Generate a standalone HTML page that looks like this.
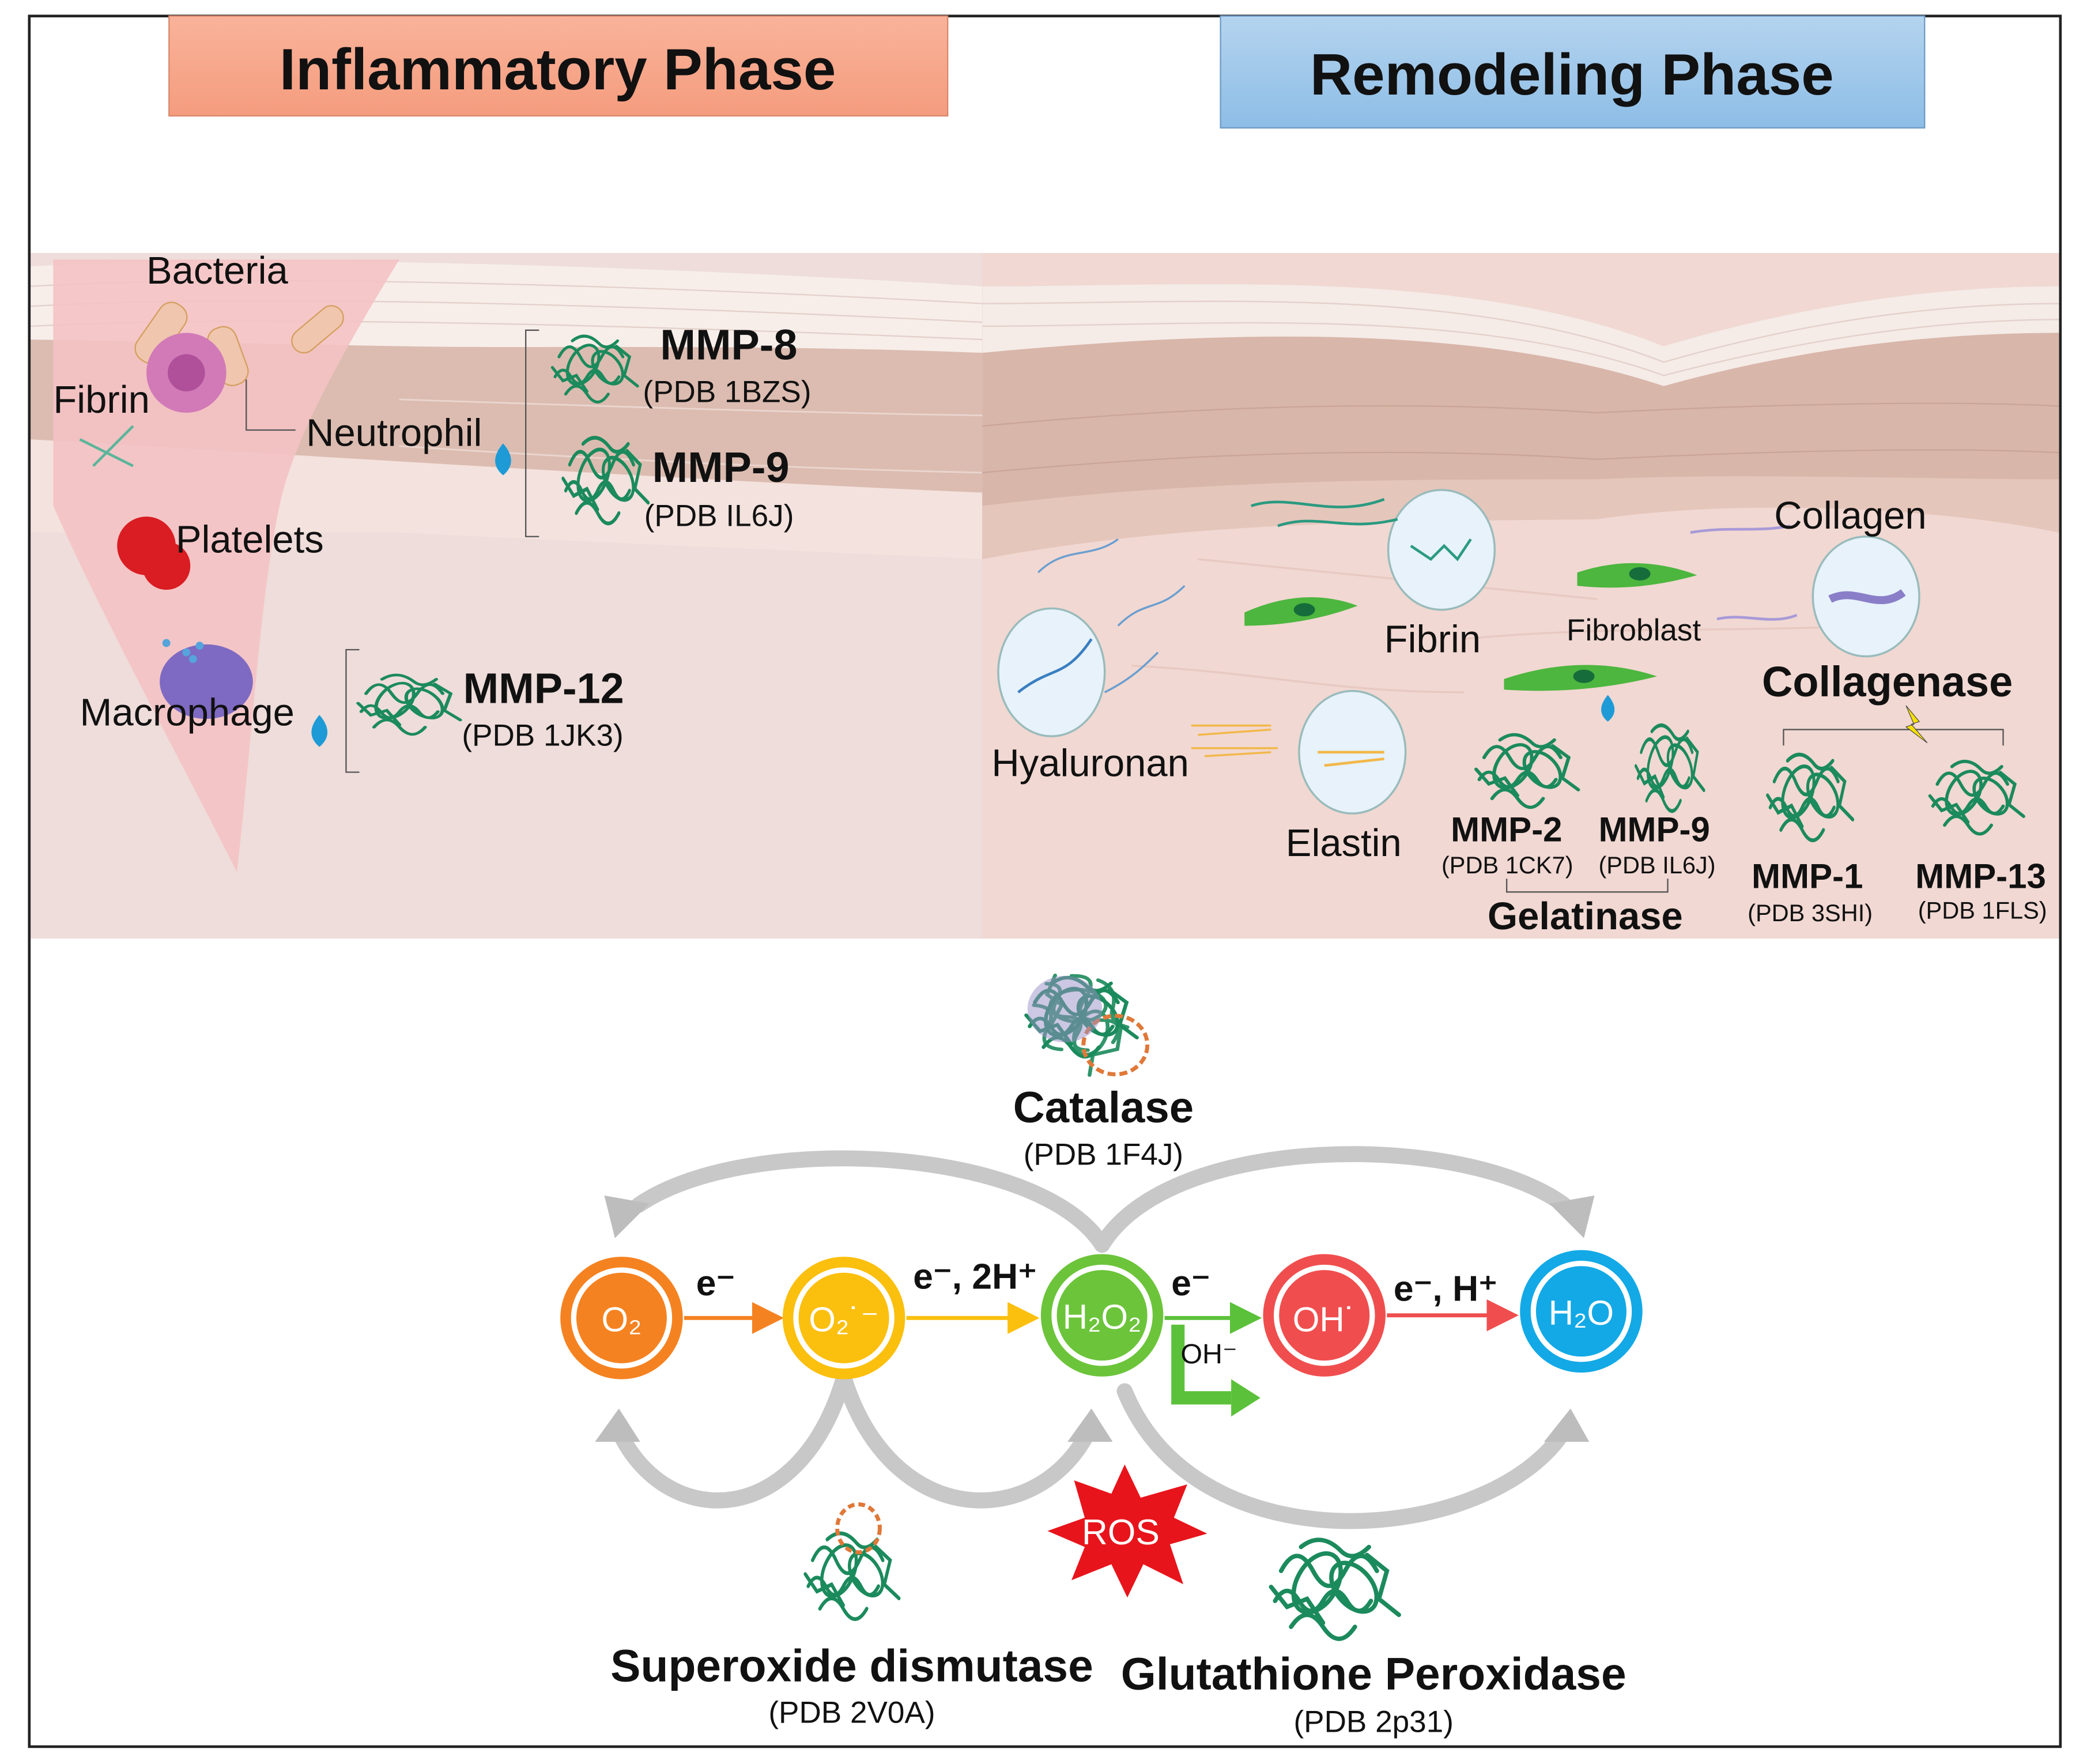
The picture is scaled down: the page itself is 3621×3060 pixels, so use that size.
<!DOCTYPE html>
<html><head><meta charset="utf-8"><style>
html,body{margin:0;padding:0;background:#fff;}
svg{display:block;}
text{font-family:"Liberation Sans",Arial,sans-serif;}
</style></head><body>
<svg width="3621" height="3060" viewBox="0 0 1568 1325" xmlns="http://www.w3.org/2000/svg">
<defs>
<linearGradient id="gI" x1="0" y1="0" x2="0" y2="1"><stop offset="0" stop-color="#f9b39a"/><stop offset="1" stop-color="#f59c7e"/></linearGradient>
<linearGradient id="gR" x1="0" y1="0" x2="0" y2="1"><stop offset="0" stop-color="#b4d4ef"/><stop offset="1" stop-color="#8dbde6"/></linearGradient>
<marker id="ao" markerWidth="8" markerHeight="8" refX="6" refY="4" orient="auto"><path d="M0,0 L8,4 L0,8z" fill="#f58220"/></marker>
<marker id="ay" markerWidth="8" markerHeight="8" refX="6" refY="4" orient="auto"><path d="M0,0 L8,4 L0,8z" fill="#fbbf0e"/></marker>
<marker id="ag" markerWidth="8" markerHeight="8" refX="6" refY="4" orient="auto"><path d="M0,0 L8,4 L0,8z" fill="#5cc13a"/></marker>
<marker id="ar" markerWidth="8" markerHeight="8" refX="6" refY="4" orient="auto"><path d="M0,0 L8,4 L0,8z" fill="#f04e4e"/></marker>
<g id="prot" fill="none" stroke="#1b8a5c" stroke-width="2.2" stroke-linecap="round">
<path d="M-25,-10 q8,-15 16,0 q8,15 16,0 q8,-15 16,0"/>
<path d="M-28,5 q6,-10 12,0 q6,10 12,0 q6,-10 12,0 q6,10 12,0"/>
<path d="M-20,18 q8,-12 16,0 q8,12 16,0"/>
<path d="M-15,-22 q10,-8 20,2 q6,6 14,-2"/>
<ellipse cx="-8" cy="0" rx="10" ry="16" transform="rotate(30)"/>
<ellipse cx="10" cy="6" rx="9" ry="14" transform="rotate(-40)"/>
<path d="M-30,-2 l8,10 l10,-4 l8,12 M18,-18 l10,8 l-4,14 l10,8"/>
</g>
</defs>
<rect x="0" y="0" width="1568" height="1325" fill="#fff"/>
<rect x="23" y="190" width="1524" height="515" fill="#f1d8d2"/>
<rect x="23" y="190" width="715" height="515" fill="#eeddda"/>
<!-- epidermis left -->
<path d="M23,200 C200,190 500,200 738,215 L738,420 C600,410 420,400 300,395 L23,400 Z" fill="#dcbcb0"/>
<path d="M23,200 C200,190 500,200 738,215 L738,265 C560,258 400,262 300,260 L23,255 Z" fill="#f7eeea"/>
<g stroke="#e3d0ca" stroke-width="1" fill="none"><path d="M23,215 C200,205 500,215 738,228"/><path d="M23,230 C200,220 500,230 738,242"/><path d="M23,245 C200,236 500,245 738,255"/></g>
<path d="M23,330 C200,340 500,360 738,370 L738,420 C560,412 400,405 300,400 L23,400 Z" fill="#f4e2de"/>
<g stroke="#ead6d0" stroke-width="1.2" fill="none">
<path d="M300,300 C450,305 600,310 738,312"/><path d="M300,335 C450,345 600,352 738,355"/>
</g>
<!-- epidermis right -->
<path d="M738,215 C900,215 1100,200 1250,260 C1350,230 1450,215 1547,215 L1547,400 C1450,380 1300,370 1200,385 C1050,390 900,385 738,420 Z" fill="#d8b6a9"/>
<path d="M738,215 C900,215 1100,200 1250,260 C1350,230 1450,215 1547,215 L1547,250 C1450,250 1350,262 1250,290 C1100,240 900,250 738,265 Z" fill="#f5ebe7"/>
<g stroke="#e3d0ca" stroke-width="1" fill="none"><path d="M738,228 C900,228 1100,213 1250,272 C1350,243 1450,228 1547,228"/><path d="M738,245 C900,245 1100,228 1250,282 C1350,256 1450,240 1547,240"/></g>
<g stroke="#caa597" stroke-width="1" fill="none">
<path d="M738,320 C900,305 1050,300 1200,310 C1300,305 1450,300 1547,305"/>
<path d="M738,355 C900,340 1050,335 1200,345 C1300,340 1450,335 1547,340"/>
</g>
<path d="M738,380 C900,360 1050,360 1200,360 C1300,355 1450,360 1547,360 L1547,400 C1450,380 1300,375 1200,390 C1050,392 900,390 738,420 Z" fill="#e5c6bb"/>
<g stroke="#e8c9c2" stroke-width="1.5" fill="none"><path d="M900,420 C1000,430 1100,440 1200,450"/><path d="M1100,480 C1200,470 1300,475 1400,470"/><path d="M850,500 C950,505 1000,520 1100,520"/></g>
<!-- wound wedge -->
<path d="M40,195 L300,195 C260,260 220,330 210,380 C195,450 190,550 178,655 C130,560 80,470 40,380 Z" fill="#f4c2c4" opacity="0.9"/>
<rect x="22" y="12" width="1526" height="1300" fill="none" stroke="#222" stroke-width="2"/>
<!-- headers -->
<rect x="127" y="12" width="585" height="75" fill="url(#gI)" stroke="#d9886c" stroke-width="1"/>
<text x="419" y="67" font-size="44" font-weight="bold" text-anchor="middle" fill="#111">Inflammatory Phase</text>
<rect x="917" y="12" width="529" height="84" fill="url(#gR)" stroke="#6e9cc6" stroke-width="1"/>
<text x="1181" y="71" font-size="44" font-weight="bold" text-anchor="middle" fill="#111">Remodeling Phase</text>
<!-- left cells -->
<g fill="#f0c6ae" stroke="#d4a060" stroke-width="1"><rect x="110" y="225" width="22" height="50" rx="10" transform="rotate(35 121 250)"/><rect x="160" y="245" width="22" height="45" rx="10" transform="rotate(-20 171 267)"/><rect x="230" y="225" width="18" height="45" rx="9" transform="rotate(50 239 247)"/></g>
<circle cx="140" cy="280" r="30" fill="#d27ab8"/><circle cx="140" cy="280" r="14" fill="#b0509a"/>
<circle cx="110" cy="410" r="22" fill="#d91d22"/><circle cx="125" cy="425" r="18" fill="#d91d22"/>
<ellipse cx="155" cy="512" rx="35" ry="28" fill="#7e6ac2"/>
<g fill="#55a4dc"><circle cx="125" cy="483" r="3"/><circle cx="140" cy="490" r="3"/><circle cx="150" cy="485" r="3"/><circle cx="145" cy="495" r="3"/></g>
<path d="M60,330 l40,20 M70,350 l30,-30" stroke="#5cb59a" stroke-width="2"/>
<g font-size="29" fill="#111">
<text x="110" y="213">Bacteria</text><text x="40" y="310">Fibrin</text><text x="230" y="335">Neutrophil</text><text x="132" y="415">Platelets</text><text x="60" y="545">Macrophage</text>
</g>
<path d="M185,285 L185,323 L222,323" stroke="#555" fill="none"/>
<g stroke="#555" fill="none"><path d="M405,248 L395,248 L395,403 L405,403"/><path d="M270,488 L260,488 L260,580 L270,580"/></g>
<g fill="#1e9bd7"><path d="M378,333 q-12,14 0,24 q12,-10 0,-24z" /><path d="M240,537 q-12,14 0,24 q12,-10 0,-24z"/><path d="M1208,522 q-10,12 0,20 q10,-8 0,-20z"/></g>
<use href="#prot" transform="translate(445,278)"/>
<use href="#prot" transform="translate(453,362) scale(1,1.3)"/>
<use href="#prot" transform="translate(305,530) scale(1.2,0.9)"/>
<use href="#prot" transform="translate(1145,580) scale(1.2,1.1)"/>
<use href="#prot" transform="translate(1253,578) scale(0.8,1.3)"/>
<use href="#prot" transform="translate(1358,600) scale(1,1.3)"/>
<use href="#prot" transform="translate(1483,600) scale(1.1,1.1)"/>
<g font-size="32" font-weight="bold" fill="#111"><text x="496" y="270">MMP-8</text><text x="490" y="362">MMP-9</text><text x="348" y="528">MMP-12</text></g>
<g font-size="23" fill="#111"><text x="483" y="302">(PDB 1BZS)</text><text x="484" y="395">(PDB IL6J)</text><text x="347" y="560">(PDB 1JK3)</text></g>
<!-- right -->
<g fill="#e7f2fb" stroke="#9bb" stroke-width="1.5">
<ellipse cx="790" cy="505" rx="40" ry="48"/><ellipse cx="1083" cy="413" rx="40" ry="45"/><ellipse cx="1402" cy="448" rx="40" ry="45"/><ellipse cx="1016" cy="565" rx="40" ry="46"/>
</g>
<path d="M780,430 C800,410 820,420 840,405 M840,470 C860,450 870,460 890,440 M830,520 C850,510 860,500 870,490" stroke="#6a9ed0" stroke-width="1.5" fill="none"/>
<path d="M765,520 C790,500 800,510 820,480" stroke="#3a7ec0" stroke-width="2" fill="none"/>
<path d="M940,380 C970,370 1000,390 1040,375 M960,395 C990,385 1010,400 1050,390" stroke="#2a9a80" stroke-width="2" fill="none"/>
<path d="M1060,410 l15,10 l10,-10 l10,10 l10,-15" stroke="#2a9a80" stroke-width="2" fill="none"/>
<path d="M1270,400 C1300,395 1320,400 1345,395 M1290,465 C1310,460 1330,470 1350,462" stroke="#a89ad8" stroke-width="2" fill="none"/>
<path d="M1375,450 C1395,440 1410,460 1430,445" stroke="#8a7ec8" stroke-width="6" fill="none"/>
<g stroke="#f2b84a" stroke-width="1.5"><path d="M895,545 l60,0 M900,552 l55,-4 M895,562 l65,0 M905,568 l50,-3"/></g>
<path d="M990,565 l50,0 M995,575 l45,-5" stroke="#f2b84a" stroke-width="2"/>
<g fill="#4cb63e"><path d="M935,460 Q980,440 1020,455 Q980,470 935,470z"/><path d="M1185,430 Q1230,415 1275,432 Q1230,445 1185,440z"/><path d="M1130,510 Q1190,490 1245,508 Q1190,522 1130,518z"/></g>
<g fill="#166c3a"><ellipse cx="980" cy="458" rx="8" ry="5"/><ellipse cx="1232" cy="431" rx="8" ry="5"/><ellipse cx="1190" cy="508" rx="8" ry="5"/></g>
<g font-size="29" fill="#111"><text x="1333" y="397">Collagen</text><text x="1040" y="490">Fibrin</text><text x="745" y="583">Hyaluronan</text><text x="966" y="643">Elastin</text></g>
<text x="1177" y="481" font-size="23" fill="#111">Fibroblast</text>
<text x="1418" y="523" font-size="32" font-weight="bold" text-anchor="middle" fill="#111">Collagenase</text>
<path d="M1340,560 L1340,548 L1505,548 L1505,560" stroke="#555" fill="none"/>
<path d="M1432,530 l10,12 l-6,2 l12,14 l-16,-12 l6,-2z" fill="#f5e000" stroke="#444" stroke-width="0.5"/>
<g font-size="26" font-weight="bold" fill="#111"><text x="1090" y="632">MMP-2</text><text x="1201" y="632">MMP-9</text><text x="1316" y="667">MMP-1</text><text x="1439" y="667">MMP-13</text></g>
<g font-size="18" fill="#111"><text x="1083" y="656">(PDB 1CK7)</text><text x="1201" y="656">(PDB IL6J)</text><text x="1313" y="692">(PDB 3SHI)</text><text x="1441" y="690">(PDB 1FLS)</text></g>
<path d="M1132,660 L1132,670 L1253,670 L1253,660" stroke="#555" fill="none"/>
<text x="1191" y="698" font-size="29" font-weight="bold" text-anchor="middle" fill="#111">Gelatinase</text>
<!-- bottom: gray curves -->
<g fill="none" stroke="#c8c8c8" stroke-width="12" stroke-linecap="round">
<path d="M828,935 C780,860 560,850 480,905"/>
<path d="M828,935 C880,850 1100,850 1175,905"/>
<path d="M634,1035 C600,1150 500,1150 465,1075"/>
<path d="M634,1035 C670,1150 780,1150 818,1075"/>
<path d="M845,1045 C900,1180 1120,1160 1175,1075"/>
</g>
<g fill="#bdbdbd"><path d="M462,930 l-8,-32 l34,6z"/><path d="M1190,930 l8,-32 l-34,6z"/><path d="M465,1058 l-18,25 l34,0z"/><path d="M820,1058 l-18,25 l34,0z"/><path d="M1180,1058 l-20,25 l34,0z"/></g>
<line x1="514" y1="990" x2="583" y2="990" stroke="#f58220" stroke-width="3" marker-end="url(#ao)"/>
<line x1="681" y1="990" x2="775" y2="990" stroke="#fbbf0e" stroke-width="3" marker-end="url(#ay)"/>
<line x1="875" y1="990" x2="942" y2="990" stroke="#5cc13a" stroke-width="3" marker-end="url(#ag)"/>
<line x1="1042" y1="988" x2="1135" y2="988" stroke="#f04e4e" stroke-width="3" marker-end="url(#ar)"/>
<path d="M885,995 L885,1050 L925,1050" stroke="#5cc13a" stroke-width="10" fill="none"/><path d="M925,1036 l22,14 l-22,14z" fill="#5cc13a"/>
<g font-size="27" font-weight="bold" fill="#111"><text x="523" y="973">e⁻</text><text x="686" y="968">e⁻, 2H⁺</text><text x="880" y="973">e⁻</text><text x="1047" y="977">e⁻, H⁺</text></g>
<text x="887" y="1024" font-size="21" fill="#111">OH⁻</text>
<g stroke-width="4">
<circle cx="467" cy="990" r="46" fill="#f58220"/><circle cx="467" cy="990" r="36" fill="none" stroke="#fff"/>
<circle cx="634" cy="990" r="46" fill="#fbbf0e"/><circle cx="634" cy="990" r="36" fill="none" stroke="#fff"/>
<circle cx="828" cy="988" r="46" fill="#6cc43a"/><circle cx="828" cy="988" r="36" fill="none" stroke="#fff"/>
<circle cx="995" cy="988" r="46" fill="#f04e4e"/><circle cx="995" cy="988" r="36" fill="none" stroke="#fff"/>
<circle cx="1188" cy="985" r="46" fill="#12a9e6"/><circle cx="1188" cy="985" r="36" fill="none" stroke="#fff"/>
</g>
<g font-size="26" fill="#fff" text-anchor="middle"><text x="467" y="1000">O₂</text><text x="634" y="1000">O₂˙⁻</text><text x="828" y="998">H₂O₂</text><text x="995" y="1000">OH˙</text><text x="1188" y="995">H₂O</text></g>
<path d="M845,1100 l12,25 l35,-10 l-10,25 l25,12 l-28,8 l10,30 l-30,-15 l-12,25 l-12,-25 l-30,12 l10,-25 l-28,-12 l28,-10 l-8,-28 l28,10z" fill="#e8141b"/>
<text x="842" y="1160" font-size="27" fill="#fff" text-anchor="middle">ROS</text>
<!-- proteins -->
<use href="#prot" transform="translate(810,765) scale(1.3,1.2)" style="stroke:#8a7fc0"/>
<g transform="translate(810,765) scale(1.3,1.2)" opacity="0.9"><use href="#prot" transform="rotate(60)"/></g>
<ellipse cx="838" cy="785" rx="24" ry="22" fill="none" stroke="#e07838" stroke-width="3" stroke-dasharray="6 3"/>
<ellipse cx="800" cy="758" rx="28" ry="25" fill="#9a8fc8" opacity="0.5"/>
<use href="#prot" transform="translate(638,1185) scale(1.1,1.3)"/>
<ellipse cx="645" cy="1148" rx="16" ry="18" fill="none" stroke="#e07838" stroke-width="3" stroke-dasharray="5 3"/>
<use href="#prot" transform="translate(1000,1195) scale(1.5,1.5)"/>
<g font-size="33" font-weight="bold" fill="#111" text-anchor="middle"><text x="829" y="843">Catalase</text></g>
<g font-size="34" font-weight="bold" fill="#111" text-anchor="middle"><text x="640" y="1263">Superoxide dismutase</text><text x="1032" y="1269">Glutathione Peroxidase</text></g>
<g font-size="23" fill="#111" text-anchor="middle"><text x="829" y="875">(PDB 1F4J)</text><text x="640" y="1294">(PDB 2V0A)</text><text x="1032" y="1301">(PDB 2p31)</text></g>
</svg>
</body></html>
